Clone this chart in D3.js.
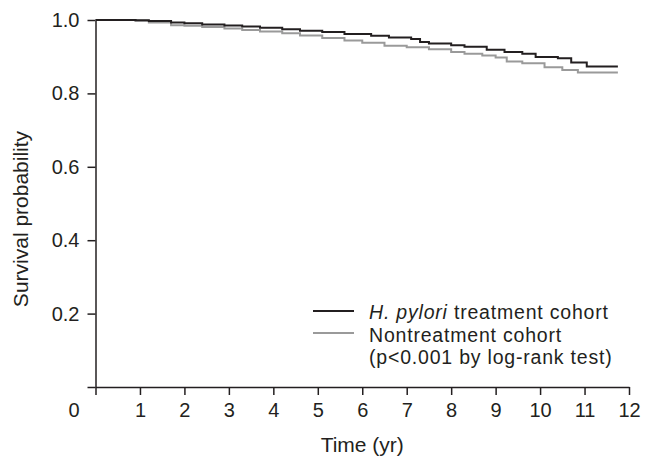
<!DOCTYPE html>
<html>
<head>
<meta charset="utf-8">
<script src="https://cdn.jsdelivr.net/npm/d3@7"></script>
<style>
  body { margin: 0; background: #fff; }
  svg { display: block; }
  text { font-family: "Liberation Sans", Arial, sans-serif; fill: #231f20; }
</style>
</head>
<body>
<svg id="chart" width="646" height="470"></svg>
<script>
// Kaplan-Meier estimates
const treatTime = [0, 0.9, 1.2, 1.7, 2.0, 2.4, 2.9, 3.3, 3.7, 4.2, 4.6, 5.1, 5.6, 6.2, 6.6, 7.1, 7.3, 7.5, 8.0, 8.3, 8.8, 9.2, 9.6, 9.9, 10.4, 10.7, 11.05, 11.75];
const treatSurv = [1.000, 0.999, 0.997, 0.993, 0.991, 0.988, 0.985, 0.982, 0.979, 0.975, 0.971, 0.967, 0.962, 0.957, 0.952, 0.948, 0.940, 0.936, 0.931, 0.927, 0.919, 0.913, 0.908, 0.899, 0.896, 0.884, 0.873, 0.873];
const nonTime = [0, 0.9, 1.2, 1.7, 2.0, 2.4, 2.9, 3.3, 3.7, 4.2, 4.6, 5.1, 5.6, 6.0, 6.5, 7.0, 7.5, 8.0, 8.3, 8.7, 9.0, 9.25, 9.6, 10.1, 10.5, 10.85, 11.75];
const nonSurv = [1.000, 0.998, 0.993, 0.986, 0.984, 0.981, 0.977, 0.973, 0.969, 0.964, 0.958, 0.951, 0.944, 0.938, 0.930, 0.926, 0.920, 0.913, 0.908, 0.903, 0.898, 0.887, 0.882, 0.871, 0.864, 0.857, 0.857];

const xTicks = [0, 1, 2, 3, 4, 5, 6, 7, 8, 9, 10, 11, 12];
const yTicks = [0, 0.2, 0.4, 0.6, 0.8, 1.0];
const legendLabels = ["treatment cohort", "Nontreatment cohort", "(p<0.001 by log-rank test)"];

const svg = d3.select("#chart");
const ink = "#231f20";

const x = d3.scaleLinear().domain([0, 12]).range([95.5, 629]);
const y = d3.scaleLinear().domain([0, 1]).range([387, 20]);

// x axis
const xAxis = svg.append("g")
    .attr("transform", `translate(0,${y(0)})`)
    .call(d3.axisBottom(x).tickValues(xTicks).tickSize(8).tickSizeOuter(0).tickPadding(8).tickFormat(d3.format("d")));
// the origin label sits left of the axis
xAxis.selectAll(".tick").filter(d => d === 0).select("text").attr("dx", -22);

// y axis
const yAxis = svg.append("g")
    .attr("transform", `translate(${x(0)},0)`)
    .call(d3.axisLeft(y).tickValues(yTicks).tickSize(8).tickSizeOuter(0).tickPadding(8)
        .tickFormat(d => d === 0 ? "" : d3.format(".1f")(d)));

[xAxis, yAxis].forEach(g => {
    g.selectAll("path, line").attr("stroke", ink).attr("stroke-width", 1.5);
    g.selectAll("text").style("font-size", "20px").attr("fill", ink);
});

// axis titles
svg.append("text")
    .attr("x", (x(0) + x(12)) / 2)
    .attr("y", 452)
    .attr("text-anchor", "middle")
    .style("font-size", "21px")
    .text("Time (yr)");

svg.append("text")
    .attr("transform", "translate(28,219) rotate(-90)")
    .attr("text-anchor", "middle")
    .style("font-size", "21px")
    .text("Survival probability");

// survival curves
const line = d3.line()
    .x(d => x(d[0]))
    .y(d => y(d[1]))
    .curve(d3.curveStepAfter);

svg.append("path")
    .datum(nonTime.map((t, i) => [t, nonSurv[i]]))
    .attr("d", line)
    .attr("fill", "none")
    .attr("stroke", "#9a9a9a")
    .attr("stroke-width", 2);

svg.append("path")
    .datum(treatTime.map((t, i) => [t, treatSurv[i]]))
    .attr("d", line)
    .attr("fill", "none")
    .attr("stroke", "#231f20")
    .attr("stroke-width", 2);

// legend
const legend = svg.append("g").attr("transform", "translate(313,0)");
legend.append("line").attr("x1", 0).attr("x2", 41).attr("y1", 311).attr("y2", 311)
    .attr("stroke", "#231f20").attr("stroke-width", 1.8);
legend.append("line").attr("x1", 0).attr("x2", 41).attr("y1", 333).attr("y2", 333)
    .attr("stroke", "#9a9a9a").attr("stroke-width", 1.8);

const legendFont = "19.5px";
const t1 = legend.append("text").attr("x", 56).attr("y", 319)
    .style("font-size", legendFont).style("letter-spacing", "0.8px");
t1.append("tspan").style("font-style", "italic").text("H. pylori");
t1.append("tspan").text(" " + legendLabels[0]);
legend.append("text").attr("x", 56).attr("y", 341.5)
    .style("font-size", legendFont).style("letter-spacing", "0.8px").text(legendLabels[1]);
legend.append("text").attr("x", 56).attr("y", 364)
    .style("font-size", legendFont).style("letter-spacing", "0.8px").text(legendLabels[2]);
</script>
</body>
</html>
